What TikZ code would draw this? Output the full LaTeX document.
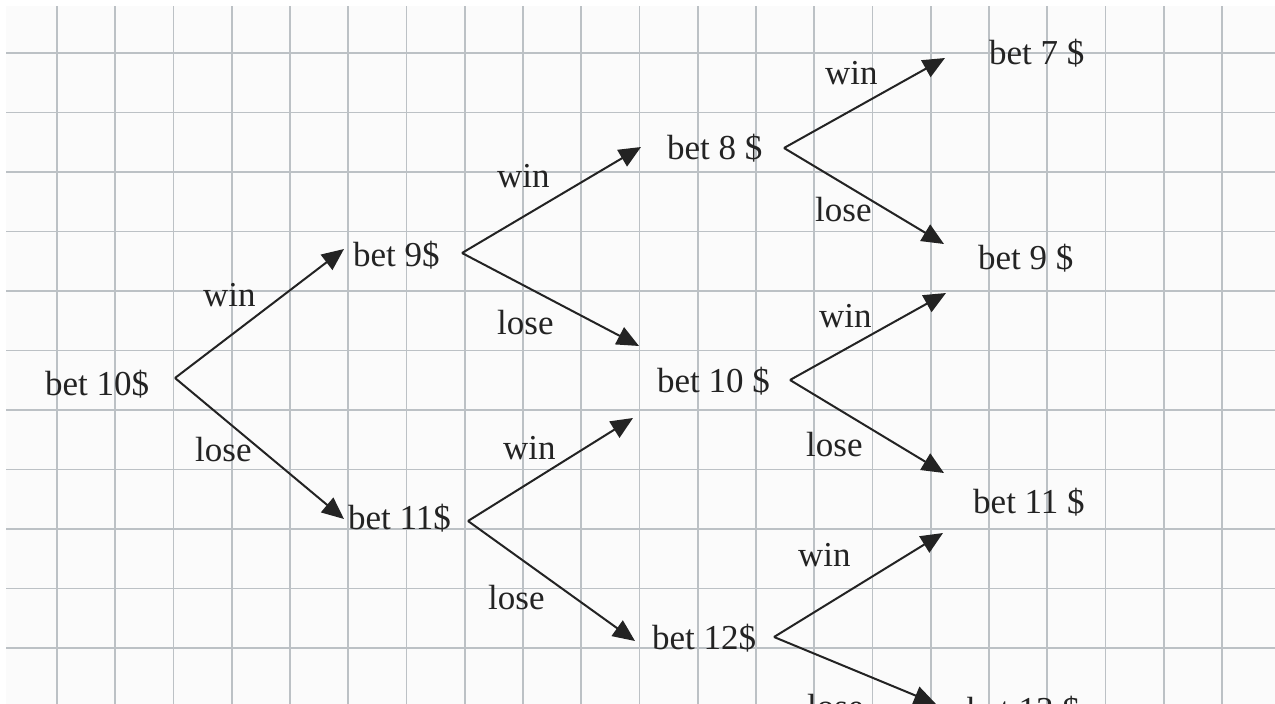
\documentclass[tikz,border=0pt]{standalone}
\usepackage{fontspec}
\setmainfont{Liberation Serif}
\usetikzlibrary{arrows.meta}
\definecolor{gridc}{RGB}{188,193,197}
\definecolor{inkc}{RGB}{35,35,35}
\definecolor{paper}{RGB}{251,251,251}
\begin{document}
\begin{tikzpicture}[x=1pt,y=-1pt,
  lbl/.style={anchor=base west,inner sep=0pt,text=inkc,font=\fontsize{35}{40}\selectfont},
  arr/.style={draw=inkc,line width=2pt,-{Triangle[length=22pt,width=19pt]}},
  gridl/.style={draw=gridc,line width=1.8pt}]
\useasboundingbox (0,0) rectangle (1275,704);
\clip (0,0) rectangle (1275,704);
\fill[white] (0,0) rectangle (1275,704);
\fill[paper] (6,6) rectangle (1275,704);
% grid
\foreach \k in {0,...,20} {\draw[gridl] ({57+58.25*\k},6) -- ({57+58.25*\k},704);}
\foreach \k in {0,...,10} {\draw[gridl] (6,{53+59.5*\k}) -- (1275,{53+59.5*\k});}
% nodes
\node[lbl] (n10)  at (45,395)  {bet 10\$};
\node[lbl] (n9)   at (353,266) {bet 9\$};
\node[lbl] (n11)  at (348,529) {bet 11\$};
\node[lbl] (n8)   at (667,159) {bet 8 \$};
\node[lbl] (n10b) at (657,392) {bet 10 \$};
\node[lbl] (n12)  at (652,649) {bet 12\$};
\node[lbl] (n7)   at (989,64)  {bet 7 \$};
\node[lbl] (n9b)  at (978,269) {bet 9 \$};
\node[lbl] (n11b) at (973,513) {bet 11 \$};
\node[lbl] (n13)  at (967,721) {bet 13 \$};
% edge labels
\node[lbl] (w1) at (203,306) {win};
\node[lbl] (l1) at (195,461) {lose};
\node[lbl] (w2) at (497,187) {win};
\node[lbl] (l2) at (497,334) {lose};
\node[lbl] (w3) at (503,459) {win};
\node[lbl] (l3) at (488,609) {lose};
\node[lbl] (w4) at (825,84)  {win};
\node[lbl] (l4) at (815,221) {lose};
\node[lbl] (w5) at (819,327) {win};
\node[lbl] (l5) at (806,456) {lose};
\node[lbl] (w6) at (798,566) {win};
\node[lbl] (l6) at (807,718) {lose};
% ports
\coordinate (n10-out) at (175,378);
\coordinate (n9-in) at (344,249);
\coordinate (n11-in) at (344,519);
\coordinate (n9-out) at (462,253);
\coordinate (n8-in) at (641,147);
\coordinate (n10b-inA) at (639,346);
\coordinate (n11-out) at (468,521);
\coordinate (n10b-inB) at (633,418);
\coordinate (n12-in) at (635,641);
\coordinate (n8-out) at (784,148);
\coordinate (n7-in) at (945,58);
\coordinate (n9b-inA) at (944,244);
\coordinate (n10b-out) at (790,380);
\coordinate (n9b-inB) at (946,293);
\coordinate (n11b-inA) at (944,473);
\coordinate (n12-out) at (774,637);
\coordinate (n11b-inB) at (943,533);
\coordinate (n13-in) at (936,704);
% connectors
\draw[arr] (n10-out) -- (n9-in);
\draw[arr] (n10-out) -- (n11-in);
\draw[arr] (n9-out) -- (n8-in);
\draw[arr] (n9-out) -- (n10b-inA);
\draw[arr] (n11-out) -- (n10b-inB);
\draw[arr] (n11-out) -- (n12-in);
\draw[arr] (n8-out) -- (n7-in);
\draw[arr] (n8-out) -- (n9b-inA);
\draw[arr] (n10b-out) -- (n9b-inB);
\draw[arr] (n10b-out) -- (n11b-inA);
\draw[arr] (n12-out) -- (n11b-inB);
\draw[arr] (n12-out) -- (n13-in);
\end{tikzpicture}
\end{document}
